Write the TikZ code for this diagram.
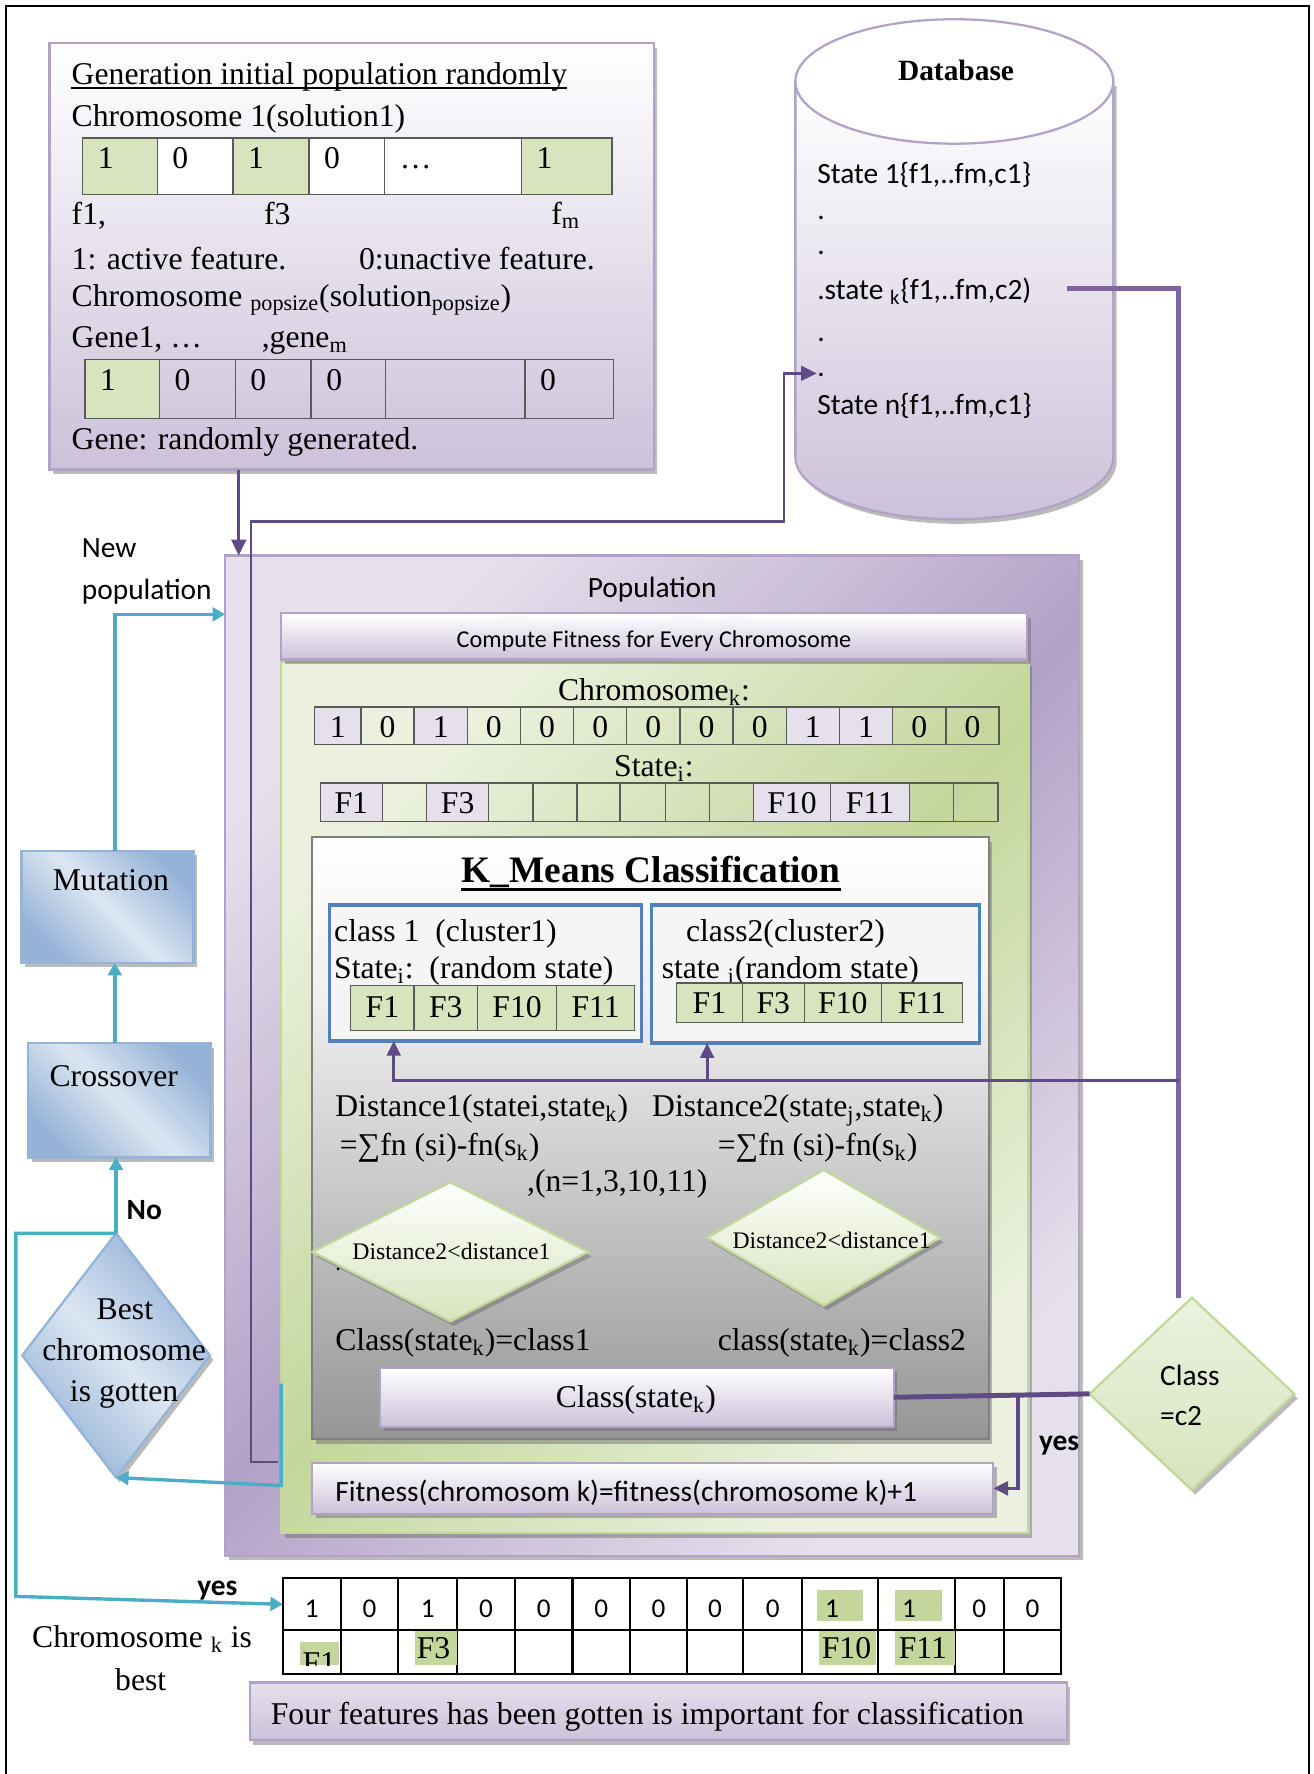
\documentclass[tikz,border=0pt]{standalone}
\usepackage{fontspec}
\setmainfont{Liberation Serif}
\newfontfamily\calfont{Carlito}
\usetikzlibrary{arrows.meta,shadows,fit,calc,shapes.geometric}

\definecolor{lavL}{HTML}{E6E0EC}
\definecolor{lavM}{HTML}{CCC1DA}
\definecolor{lavD}{HTML}{B2A1C7}
\definecolor{lavB}{HTML}{B3A2C7}
\definecolor{grL}{HTML}{EBF1DE}
\definecolor{grM}{HTML}{D7E4BD}
\definecolor{grD}{HTML}{C3D69B}
\definecolor{blL}{HTML}{DCE6F2}
\definecolor{blD}{HTML}{95B3D7}
\definecolor{cyanln}{HTML}{4BACC6}
\definecolor{purln}{HTML}{8064A2}
\definecolor{purdk}{HTML}{604A85}
\definecolor{blueb}{HTML}{4F81BD}
\definecolor{cellbd}{HTML}{595959}
\definecolor{kmbot}{HTML}{969696}
\definecolor{kmmid}{HTML}{F0F0F0}
\definecolor{kmbd}{HTML}{7F7F7F}

\pgfdeclareverticalshading{lavvert}{100bp}{color(0bp)=(lavM); color(25bp)=(lavM); color(75bp)=(white); color(100bp)=(white)}
\pgfdeclareverticalshading{lavvertb}{100bp}{color(0bp)=(lavM); color(25bp)=(lavM); color(75bp)=(lavL); color(100bp)=(lavL)}
\pgfdeclarehorizontalshading{popdiag}{100bp}{color(0bp)=(lavL); color(25bp)=(lavL); color(50bp)=(lavD); color(75bp)=(lavL); color(100bp)=(lavL)}
\pgfdeclarehorizontalshading{grdiag}{100bp}{color(0bp)=(grL); color(25bp)=(grL); color(50bp)=(grD); color(75bp)=(grL); color(100bp)=(grL)}
\pgfdeclarehorizontalshading{bldiag}{100bp}{color(0bp)=(blD); color(25bp)=(blD); color(50bp)=(blL); color(75bp)=(blD); color(100bp)=(blD)}
\pgfdeclareverticalshading{kmgray}{100bp}{color(0bp)=(kmbot); color(25bp)=(kmbot); color(62bp)=(kmmid); color(75bp)=(white); color(100bp)=(white)}
\pgfdeclareverticalshading{grvert}{100bp}{color(0bp)=(grM); color(25bp)=(grM); color(75bp)=(white); color(100bp)=(white)}
\pgfdeclareverticalshading{grvertb}{100bp}{color(0bp)=(grM); color(25bp)=(grM); color(75bp)=(grL); color(100bp)=(grL)}

\tikzset{
  tm/.style={font=\fontsize{14}{16}\selectfont, inner sep=0pt, anchor=base west},
  tmc/.style={font=\fontsize{14}{16}\selectfont, inner sep=0pt, anchor=base},
  cb/.style={font=\calfont\fontsize{13}{15}\selectfont, inner sep=0pt, anchor=base west},
  cbb/.style={font=\calfont\bfseries\fontsize{13}{15}\selectfont, inner sep=0pt, anchor=base west},
  bx/.style={inner sep=0pt, outer sep=0pt},
  shad/.style={drop shadow={shadow xshift=1.5pt, shadow yshift=-2pt, opacity=0.45, fill=black!60}},
  cellst/.style={bx, draw=cellbd, line width=0.6pt},
  pl/.style={draw=purln, line width=2.2pt},
  plA/.style={draw=purdk, line width=1.3pt, -{Triangle[length=6.5pt,width=6pt]}},
  pdA/.style={draw=purdk, line width=1.1pt, -{Triangle[length=7pt,width=6.5pt]}},
  cyA/.style={draw=cyanln, line width=1.5pt, -{Triangle[length=5.5pt,width=6pt]}},
}

\begin{document}
\begin{tikzpicture}[x=0.5pt,y=-0.5pt]
\useasboundingbox (0,0) rectangle (1161,1568);
% outer frame
\draw[line width=1pt] (5,1580) -- (5,5) -- (1157,5) -- (1157,1580);

% ---------------- Generation box ----------------
\node[bx, fit={(44,38) (578,415)}, draw=lavB, line width=1.2pt, shade, shading=lavvert, shad] (gen) {};
\node[tm] (gtitle) at (63,75) {Generation initial population randomly};
\draw[line width=0.7pt] ($(gtitle.base west)+(0,3)$) -- ($(gtitle.base east)+(0,3)$);
\node[tm] (gc1) at (63,112) {Chromosome 1(solution1)};
\foreach \xa/\xb/\t/\f [count=\i] in {73/139/1/1, 139/206/0/0, 206/273/1/1, 273/340/0/0, 340/461/…/0, 461/541/1/1} {
  \ifnum\f=1 \def\fc{grM}\else\def\fc{white}\fi
  \node[cellst, fill=\fc, fit={(\xa,122) (\xb,172)}] (ra\i) {};
  \node[tm] (rat\i) at (\xa+13,149) {\t};
}
\node[tm] (f1l) at (63,198) {f1,};
\node[tm] (f3l) at (233,198) {f3};
\node[tm] (fml) at (487,198) {f\textsubscript{m}};
\node[tm] (act) at (63,238) {1: active feature.};
\node[tm] (unact) at (317,238) {0:unactive feature.};
\node[tm] (gcp) at (63,270.5) {Chromosome \textsubscript{popsize}(solution\textsubscript{popsize})};
\node[tm] (g1) at (63,307) {Gene1, …};
\node[tm] (gm) at (231,307) {,gene\textsubscript{m}};
\foreach \xa/\xb/\t/\f [count=\i] in {75/141/1/1, 141/208/0/0, 208/275/0/0, 275/341/0/0, 341/464//0, 464/542/0/0} {
  \ifnum\f=1 \def\fc{grM}\else\def\fc{none}\fi
  \node[cellst, fill=\fc, fit={(\xa,318) (\xb,370)}] (rb\i) {};
  \node[tm] (rbt\i) at (\xa+13,345) {\t};
}
\node[tm] (grand) at (63,397) {Gene: randomly generated.};

% ---------------- Database ----------------
\path[draw=lavB, line width=1pt, shade, shading=lavvert, shad] (703,72) -- (703,404) arc[start angle=180, end angle=360, x radius=70.25pt, y radius=27.5pt] -- (984,72) -- cycle;
\path[draw=lavB, line width=1pt, fill=white] (843.5,72) ellipse [x radius=70.25pt, y radius=27.5pt];
\node[bx, fit={(703,17) (984,459)}] (db) {};
\node[font=\bfseries\fontsize{13}{15}\selectfont, inner sep=0pt, anchor=base] (dbt) at (845,71) {Database};
\node[cb] (s1) at (722,162.6) {State 1\{f1,..fm,c1\}};
\node[cb] (d1) at (722,194) {.};
\node[cb] (d2) at (722,225) {.};
\node[cb] (sk) at (722,265) {.state \textsubscript{k}\{f1,..fm,c2)};
\node[cb] (d3) at (722,302) {.};
\node[cb] (d4) at (722,333) {.};
\node[cb] (sn) at (722,366) {State n\{f1,..fm,c1\}};

% ---------------- Population ----------------
\node[bx, fit={(199,491) (954,1375)}, draw=lavB, line width=1pt, shade, shading=popdiag, shading angle=-45, shad] (pop) {};
\node[cb, anchor=base] (poplab) at (576.5,528) {Population};
\node[bx, fit={(248.5,585) (909,1355)}, draw=grD, line width=1pt, shade, shading=grdiag, shading angle=-45, shad] (grn) {};
\node[bx, fit={(248.5,542) (908,583)}, draw=lavB, line width=1pt, shade, shading=lavvert, shad] (comp) {};
\node[font=\calfont\fontsize{10.7}{13}\selectfont, inner sep=0pt, anchor=base] (compt) at (578,572) {Compute Fitness for Every Chromosome};

\node[tmc] (cktit) at (578,619) {Chromosome\textsubscript{k}:};
\foreach \v [count=\i from 0] in {1,0,1,0,0,0,0,0,0,1,1,0,0} {
  \pgfmathsetmacro\xa{\i==0 ? 278 : 319+(\i-1)*47}
  \pgfmathsetmacro\xb{319+\i*47}
  \ifnum\v=1 \def\fc{lavL}\else\def\fc{none}\fi
  \node[cellst, fill=\fc, fit={(\xa,625) (\xb,658)}] (ck\i) {};
  \node[tmc] (ckt\i) at ({(\xa+\xb)/2},651.5) {\v};
}
\node[tmc] (sttit) at (578,686) {State\textsubscript{i}:};
\foreach \xa/\xb/\t/\f [count=\i] in {283/338/F1/1, 338/377//0, 377/432/F3/1, 432/471//0, 471/510//0, 510/548//0, 548/588//0, 588/627//0, 627/666//0, 666/734/F10/1, 734/804/F11/1, 804/843//0, 843/882//0} {
  \ifnum\f=1 \def\fc{lavL}\else\def\fc{none}\fi
  \node[cellst, fill=\fc, fit={(\xa,692) (\xb,726)}] (st\i) {};
  \node[tmc] (stt\i) at ({(\xa+\xb)/2},719) {\t};
}

% ---------------- K-means ----------------
\node[bx, fit={(276,740) (874,1272)}, draw=kmbd, line width=1pt, shade, shading=kmgray, shad] (km) {};
\node[font=\bfseries\fontsize{16.5}{19}\selectfont, inner sep=0pt, anchor=base] (kmt) at (575.5,780) {K\_Means Classification};
\draw[line width=1.3pt] ($(kmt.base west)+(0,6)$) -- ($(kmt.base east)+(0,6)$);

\node[bx, fit={(291,800) (567,920)}, draw=blueb, line width=1.5pt, fill=black!4] (cls1) {};
\node[bx, fit={(576,800) (866,922)}, draw=blueb, line width=1.5pt, fill=black!4] (cls2) {};
\node[tm] (c1a) at (295,832.5) {class 1\ \ (cluster1)};
\node[tm] (c1b) at (295,865) {State\textsubscript{i}:\ \ (random state)};
\node[tm] (c2aa) at (606,832.5) {class2(cluster2)};
\node[tm] (c2bb) at (584.5,865) {state \textsubscript{j}(random state)};
\foreach \xa/\xb/\t [count=\i] in {310/366/F1, 366/422/F3, 422/492/F10, 492/561/F11} {
  \node[cellst, fill=grM, fit={(\xa,871) (\xb,911)}] (ma\i) {};
  \node[tmc] (mat\i) at ({(\xa+\xb)/2},899) {\t};
}
\foreach \xa/\xb/\t [count=\i] in {598/656/F1, 656/711/F3, 711/779/F10, 779/851/F11} {
  \node[cellst, fill=grM, fit={(\xa,869) (\xb,904)}] (mb\i) {};
  \node[tmc] (mbt\i) at ({(\xa+\xb)/2},896) {\t};
}

\node[tm] (dist1) at (296,987) {Distance1(statei,state\textsubscript{k})};
\node[tm] (sum1) at (300,1021.5) {=∑fn (si)-fn(s\textsubscript{k})};
\node[tm] (nset) at (465.5,1053) {,(n=1,3,10,11)};
\node[tm] (dist2) at (576,987) {Distance2(state\textsubscript{j},state\textsubscript{k})};
\node[tm] (sum2) at (634,1021.5) {=∑fn (si)-fn(s\textsubscript{k})};

\node[diamond, bx, minimum width=122pt, minimum height=61.5pt, draw=grD, line width=1pt, shade, shading=grvert, shad] (dia1) at (398,1106.5) {};
\node[diamond, bx, minimum width=103pt, minimum height=60pt, draw=grD, line width=1pt, shade, shading=grvert, shad] (dia2) at (728,1094) {};
\node[font=\fontsize{10.5}{12}\selectfont, inner sep=0pt, anchor=base] (dia1t) at (399,1113) {Distance2<distance1};
\node[font=\fontsize{10.5}{12}\selectfont, inner sep=0pt, anchor=base] (dia2t) at (735,1103.4) {Distance2<distance1};
\node[font=\fontsize{10}{12}\selectfont, inner sep=0pt, anchor=base west] (stray) at (296,1123) {.};

\node[tm] (cl1) at (296,1194) {Class(state\textsubscript{k})=class1};
\node[tm] (cl2) at (634,1194) {class(state\textsubscript{k})=class2};

\node[bx, fit={(336,1209) (790,1261)}, draw=lavB, line width=1pt, shade, shading=lavvert, shad] (cst) {};
\node[tmc] (cstt) at (562,1244) {Class(state\textsubscript{k})};

\node[bx, fit={(276,1293) (878,1338)}, draw=lavB, line width=1pt, shade, shading=lavvert, shad] (fitb) {};
\node[cb] (fitt) at (296,1327) {Fitness(chromosom k)=fitness(chromosome k)+1};

% ---------------- Class = c2 ----------------
\node[diamond, bx, minimum width=90.5pt, minimum height=85pt, draw=grD, line width=1pt, shade, shading=grvertb, shad] (c2) at (1053.5,1232) {};
\node[cb] (c2a) at (1025,1224.5) {Class};
\node[cb] (c2b) at (1025,1260) {=c2};
\node[cbb] (yesr) at (918,1282) {yes};

% ---------------- left column ----------------
\node[cb] (newl) at (72,493) {New};
\node[cb] (popl) at (72,529.6) {population};
\node[bx, fit={(19,752) (171,851)}, draw=blD, line width=1pt, shade, shading=bldiag, shading angle=45, shad] (mut) {};
\node[tmc] (mutt) at (98,787) {Mutation};
\node[bx, fit={(25,922) (186,1023)}, draw=blD, line width=1pt, shade, shading=bldiag, shading angle=45, shad] (cross) {};
\node[tmc] (crosst) at (100.6,960) {Crossover};
\node[diamond, bx, minimum width=83pt, minimum height=108pt, draw=blD, line width=1pt, shade, shading=bldiag, shading angle=45, shad] (best) at (102.6,1198) {};
\node[tmc] (bst1) at (110.4,1166) {Best};
\node[tmc] (bst2) at (109.7,1202.6) {chromosome};
\node[tmc] (bst3) at (109.7,1239) {is gotten};
\node[cbb] (no) at (111.6,1078) {No};

% ---------------- bottom table ----------------
\foreach \xa/\xb/\v/\hl [count=\i] in {250/301/1/0, 301/352/0/0, 352/404/1/0, 404/455/0/0, 455/506/0/0, 506/557/0/0, 557/607/0/0, 607/657/0/0, 657/709/0/0, 709/776/1/1, 776/844/1/1, 844/887/0/0, 887/938/0/0} {
  \node[bx, draw=black, line width=0.9pt, fit={(\xa,1395) (\xb,1441)}] (bt\i) {};
  \node[bx, draw=black, line width=0.9pt, fit={(\xa,1441) (\xb,1480)}] (bb\i) {};
  \ifnum\hl=0 \node[font=\calfont\fontsize{12}{14}\selectfont, inner sep=0pt, anchor=base] (btt\i) at ({(\xa+\xb)/2},1430) {\v}; \fi
}
\node[bx, fill=grD, fit={(722,1405) (763,1433)}] (hl10) {};
\node[bx, fill=grD, fit={(791,1405) (833,1433)}] (hl11) {};
\node[font=\calfont\fontsize{12}{14}\selectfont, inner sep=0pt, anchor=base west] (btt10) at (729,1430) {1};
\node[font=\calfont\fontsize{12}{14}\selectfont, inner sep=0pt, anchor=base west] (btt11) at (797,1430) {1};
\node[bx, fill=grD, fit={(265,1451) (300,1472)}] (hf1) {};
\node[bx, fill=grD, fit={(367,1442) (404,1472)}] (hf3) {};
\node[bx, fill=grD, fit={(724,1442) (774,1472)}] (hf10) {};
\node[bx, fill=grD, fit={(791,1442) (844,1472)}] (hf11) {};
\begin{scope}
  \clip (255,1445) rectangle (305,1472);
  \node[tm] (bf1) at (267,1479) {F1};
\end{scope}
\node[tm] (bf3) at (368,1466) {F3};
\node[tm] (bf10) at (726,1466) {F10};
\node[tm] (bf11) at (794,1466) {F11};
\node[cbb] (yesl) at (174,1410) {yes};
\node[tm] (chbest) at (28,1456.5) {Chromosome \textsubscript{k} is};
\node[tmc] (chbest2) at (124.4,1494) {best};
\node[bx, fit={(221,1487) (943,1538)}, draw=lavB, line width=1pt, shade, shading=lavvertb, shad] (four) {};
\node[tm] (fourt) at (239,1524) {Four features has been gotten is important for classification};

% ---------------- connectors ----------------
\coordinate (gx) at (211,450);
\draw[pdA] (gen.south -| gx) -- (pop.north -| gx);

\coordinate (pl0) at (246,1292);
\coordinate (pl1) at (222,1292);
\coordinate (pl2) at (222,461);
\coordinate (pl3) at (693,461);
\coordinate (pl4) at (693,330);
\draw[pdA] (pl0) -- (pl1) -- (pl2) -- (pl3) -- (pl4) -- (pl4 -| d4.west);

\coordinate (dbo) at (943,255);
\coordinate (vr) at (1042,255);
\draw[pl] (dbo) -- (vr) -- (vr |- c2.north);

\coordinate (hr) at (1042,955);
\coordinate (x348) at (348,955);
\coordinate (x625) at (625,955);
\draw[plA] (hr) -| (cls1.south -| x348);
\draw[plA] (x625) -- (cls2.south -| x625);

\draw[draw=purdk, line width=2.2pt] (cst.east) -- (c2.west);
\coordinate (ybr) at (900,1233);
\draw[plA, line width=1.6pt] (ybr) |- (fitb.east);

\coordinate (cy1) at (248.5,1223);
\coordinate (cy2) at (248.5,1313);
\draw[cyA] (cy1) -- (cy2) -- (best.south);
\draw[cyA] (best.north) -- (best.north |- cross.south);
\coordinate (mx) at (101.5,900);
\draw[cyA] (cross.north -| mx) -- (mut.south -| mx);
\coordinate (np) at (101.5,543);
\draw[cyA] (mut.north -| mx) -- (np) -- (np -| pop.west);
\coordinate (lf1) at (14,1090);
\coordinate (lf2) at (14,1411);
\draw[cyA] (best.north) -- (lf1) -- (lf2) -- (bt1.west);
\end{tikzpicture}
\end{document}
